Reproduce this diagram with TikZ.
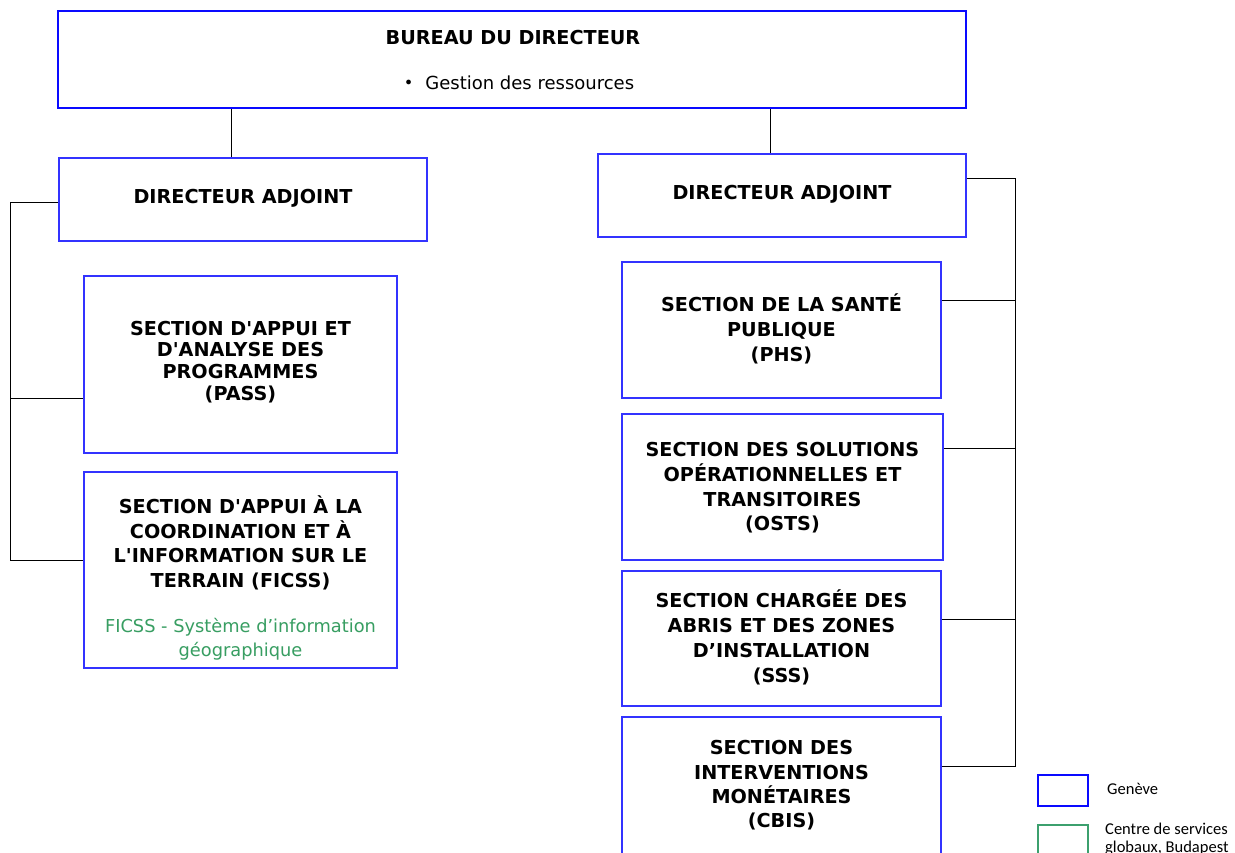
\documentclass[tikz,border=0pt]{standalone}
\usepackage{fontspec}
\setmainfont{DejaVu Sans}
\newfontfamily\legendfont{Carlito}
\usetikzlibrary{calc}
\definecolor{boxblue}{RGB}{51,51,255}
\definecolor{topblue}{RGB}{10,10,255}
\definecolor{gisgreen}{RGB}{56,158,98}
\definecolor{legendgreen}{RGB}{60,160,110}
\newcommand{\apo}{\textquotesingle}
\begin{document}
\begin{tikzpicture}[x=1pt,y=-1pt,
  box/.style={draw=boxblue, line width=2.2pt, fill=white, rectangle, inner sep=0pt},
  title/.style={font=\fontsize{19.2}{24}\selectfont\bfseries, align=center, inner sep=0pt},
  plain/.style={font=\fontsize{18}{22}\selectfont, inner sep=0pt},
  gis/.style={font=\fontsize{17.8}{24}\selectfont, text=gisgreen, align=center, inner sep=0pt},
  legtext/.style={font=\legendfont\fontsize{16.5}{18}\selectfont, align=left, anchor=west, inner sep=0pt},
  link/.style={draw=black, line width=0.9pt}]
\clip (0,0) rectangle (1235,852);
\fill[white] (0,0) rectangle (1235,852);

% boxes
\node[box, draw=topblue, minimum width=908pt, minimum height=97pt] (top) at (512,59.5) {};
\node[box, minimum width=368pt, minimum height=83pt] (dal) at (243,199.5) {};
\node[box, minimum width=368pt, minimum height=83pt] (dar) at (782,195.5) {};
\node[box, minimum width=313pt, minimum height=177pt] (pass) at (240.5,364.5) {};
\node[box, minimum width=313pt, minimum height=196pt] (ficss) at (240.5,570) {};
\node[box, minimum width=319pt, minimum height=136pt] (phs) at (781.5,330) {};
\node[box, minimum width=321pt, minimum height=146pt] (osts) at (782.5,487) {};
\node[box, minimum width=319pt, minimum height=135pt] (sss) at (781.5,638.5) {};
\node[box, minimum width=319pt, minimum height=163pt] (cbis) at (781.5,798.5) {};

% texts
\node[title] (toptitle) at (513,38) {BUREAU DU DIRECTEUR};
\node[plain] (topitem) at (519,83) {\raisebox{1.5pt}{\scalebox{0.9}{\textbullet}}\hspace{12pt}Gestion des ressources};
\node[title] (daltext) at (243,198) {DIRECTEUR ADJOINT};
\node[title] (dartext) at (782,194) {DIRECTEUR ADJOINT};
\node[title, font=\fontsize{19.2}{21.8}\selectfont\bfseries] (passtext) at (240.5,362) {SECTION D\apo APPUI ET\\D\apo ANALYSE DES\\PROGRAMMES\\(PASS)};
\node[title, font=\fontsize{19.2}{24.5}\selectfont\bfseries] (ficsstext) at (240.5,543) {SECTION D\apo APPUI À LA\\COORDINATION ET À\\L\apo INFORMATION SUR LE\\TERRAIN (FICSS)};
\node[gis] (gistext) at (240.5,639) {FICSS - Système d’information\\géographique};
\node[title, font=\fontsize{19.2}{25}\selectfont\bfseries] (phstext) at (781.5,329) {SECTION DE LA SANTÉ\\PUBLIQUE\\(PHS)};
\node[title, font=\fontsize{19.2}{24.7}\selectfont\bfseries] (oststext) at (782.5,488) {SECTION DES SOLUTIONS\\OPÉRATIONNELLES ET\\TRANSITOIRES\\(OSTS)};
\node[title, font=\fontsize{19.2}{25}\selectfont\bfseries] (ssstext) at (781.5,637.5) {SECTION CHARGÉE DES\\ABRIS ET DES ZONES\\D’INSTALLATION\\(SSS)};
\node[title, font=\fontsize{19.2}{24.3}\selectfont\bfseries] (cbistext) at (781.5,785.5) {SECTION DES\\INTERVENTIONS\\MONÉTAIRES\\(CBIS)};

% connectors from top
\draw[link] ([xshift=-12pt]dal.north) -- ([xshift=-12pt]dal.north |- top.south);
\draw[link] ([xshift=-12pt]dar.north) -- ([xshift=-12pt]dar.north |- top.south);

% left bracket
\coordinate (lbus) at (10,0);
\draw[link] ([yshift=-2.5pt]dal.west) -- ([yshift=-2.5pt]dal.west -| lbus) -- ([yshift=10pt]ficss.west -| lbus) -- ([yshift=10pt]ficss.west);
\draw[link] ([yshift=-33.5pt]pass.west) -- ([yshift=-33.5pt]pass.west -| lbus);

% right bracket
\coordinate (rbus) at (1015,0);
\draw[link] ([yshift=17.5pt]dar.east) -- ([yshift=17.5pt]dar.east -| rbus) -- ([yshift=32.5pt]cbis.east -| rbus) -- ([yshift=32.5pt]cbis.east);
\draw[link] ([yshift=30pt]phs.east) -- ([yshift=30pt]phs.east -| rbus);
\draw[link] ([yshift=39pt]osts.east) -- ([yshift=39pt]osts.east -| rbus);
\draw[link] ([yshift=19.5pt]sss.east) -- ([yshift=19.5pt]sss.east -| rbus);

% legend
\node[box, draw=topblue, line width=2.5pt, minimum width=50pt, minimum height=31pt] (leggeneva) at (1063,790.5) {};
\node[box, draw=legendgreen, line width=2.5pt, minimum width=50pt, minimum height=36pt] (legbudapest) at (1063,843) {};
\node[legtext] (legtextgeneva) at (1107,789) {Genève};
\node[legtext, anchor=north west] (legtextbudapest) at (1105,823) {Centre de services\\globaux, Budapest};
\end{tikzpicture}
\end{document}
